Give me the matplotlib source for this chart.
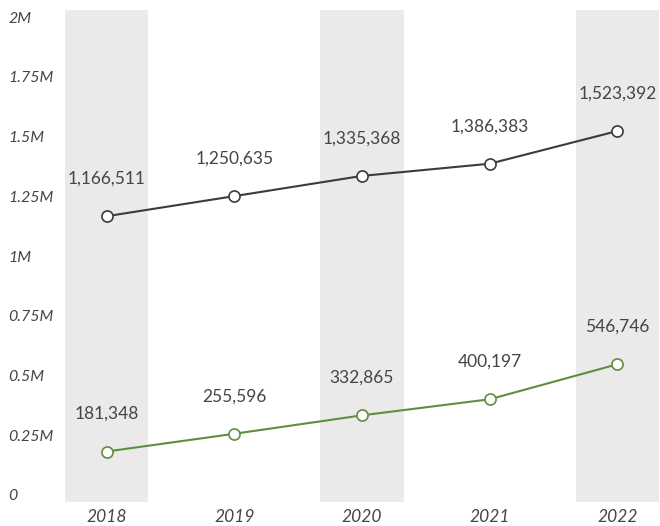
import matplotlib
matplotlib.use('Agg')
import matplotlib.pyplot as plt

# data
years = ['2018', '2019', '2020', '2021', '2022']
total = [1166511, 1250635, 1335368, 1386383, 1523392]
green = [181348, 255596, 332865, 400197, 546746]
yticks = [0, 250000, 500000, 750000, 1000000, 1250000, 1500000, 1750000, 2000000]
ytick_labels = ['0', '0.25M', '0.5M', '0.75M', '1M', '1.25M', '1.5M', '1.75M', '2M']

plt.rcParams['font.family'] = ['Lato', 'DejaVu Sans']
text_col = '#454545'
dark = '#3b3b3b'
grn = '#5e8f3c'
band = '#ebe9ea'

fig = plt.figure(figsize=(6.6, 5.26), dpi=100)
ax = fig.add_axes([65 / 660, 1 - 502 / 526, 594 / 660, 492 / 526])

x = list(range(len(years)))
for i in x[::2]:
    ax.axvspan(i - 0.325, i + 0.325, color=band, zorder=0, lw=0)

for vals, col in [(total, dark), (green, grn)]:
    ax.plot(x, vals, color=col, lw=1.5, marker='o', markersize=8,
            markerfacecolor='white', markeredgecolor=col, markeredgewidth=1.2, zorder=3)
    for xi, v in zip(x, vals):
        ax.annotate(f'{v:,}', (xi, v), xytext=(0, 27), textcoords='offset points',
                    ha='center', va='center', fontsize=12.5, color=text_col)

ax.set_xlim(-0.325, 4.325)
ax.set_ylim(-30000, 2030000)
ax.set_xticks(x)
ax.set_xticklabels(years, fontsize=12.5, style='italic', color=text_col)
ax.set_yticks(yticks)
ax.set_yticklabels(ytick_labels, fontsize=11.5, style='italic', color=text_col, ha='left')
ax.tick_params(axis='y', length=0, pad=41)
ax.tick_params(axis='x', length=0, pad=5)
for s in ax.spines.values():
    s.set_visible(False)

fig.savefig('out.png', dpi=100)
